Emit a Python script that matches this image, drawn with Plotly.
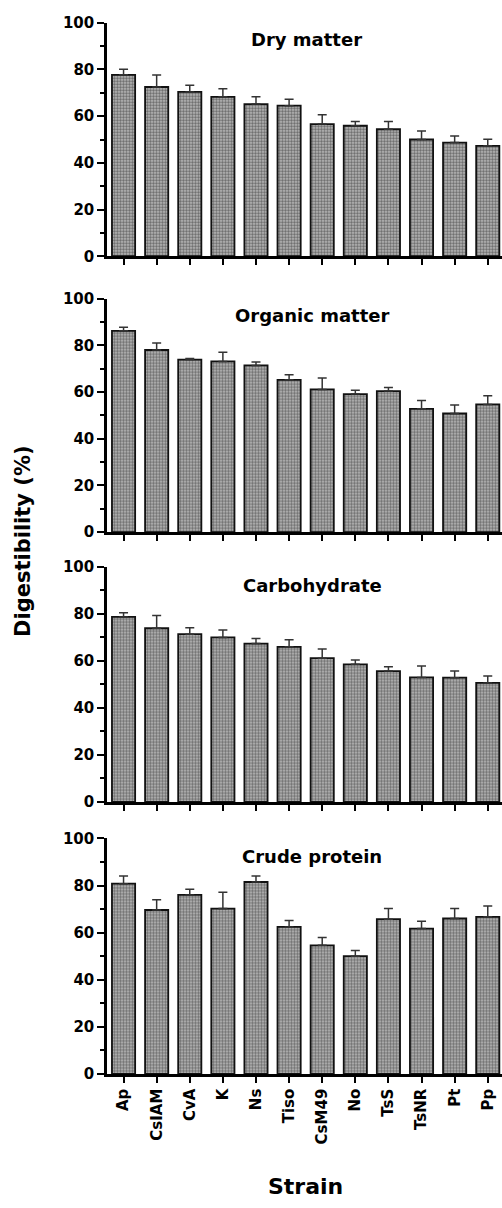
import plotly.graph_objects as go

strains = ["Ap", "CsIAM", "CvA", "K", "Ns", "Tiso", "CsM49", "No", "TsS", "TsNR", "Pt", "Pp"]

panel_titles = ["Dry matter", "Organic matter", "Carbohydrate", "Crude protein"]

dry_matter = [77.7, 72.5, 70.4, 68.3, 65.2, 64.5, 56.6, 55.9, 54.4, 50.0, 48.7, 47.3]
dry_matter_err = [2.4, 5.1, 2.8, 3.4, 3.1, 2.8, 4.0, 1.8, 3.3, 3.7, 2.8, 2.8]

organic_matter = [86.2, 78.0, 73.9, 73.1, 71.4, 65.2, 61.1, 59.1, 60.4, 52.8, 50.8, 54.7]
organic_matter_err = [1.5, 3.0, 0.4, 3.9, 1.4, 2.2, 4.9, 1.7, 1.5, 3.6, 3.6, 3.7]

carbohydrate = [78.6, 73.8, 71.3, 69.9, 67.3, 65.9, 61.1, 58.5, 55.6, 52.9, 52.8, 50.6]
carbohydrate_err = [1.8, 5.4, 2.7, 3.2, 2.2, 3.0, 3.9, 1.8, 1.9, 4.9, 2.8, 2.9]

crude_protein = [80.8, 69.6, 76.0, 70.2, 81.5, 62.4, 54.6, 50.0, 65.7, 61.7, 66.0, 66.7]
crude_protein_err = [3.2, 4.4, 2.4, 7.0, 2.5, 2.8, 3.3, 2.4, 4.6, 3.1, 4.3, 4.6]

y_ticks = [0, 20, 40, 60, 80, 100]

series = [
    (dry_matter, dry_matter_err),
    (organic_matter, organic_matter_err),
    (carbohydrate, carbohydrate_err),
    (crude_protein, crude_protein_err),
]

W, H = 502, 1208
# pixel extents of each panel's plot area (top, bottom)
panel_px = [(14, 251), (294, 531), (566, 805), (842, 1081)]
title_px = [(306, 31), (312, 311), (312, 585), (312, 860)]
x_left_px = 107

FONT = "DejaVu Sans"

fig = go.Figure()
layout_axes = {}
for i, ((vals, errs), (top, bot)) in enumerate(zip(series, panel_px)):
    n = i + 1
    xa = "x" if n == 1 else f"x{n}"
    ya = "y" if n == 1 else f"y{n}"
    fig.add_trace(go.Bar(
        x=list(range(len(strains))),
        y=vals,
        xaxis=xa, yaxis=ya,
        width=0.7,
        marker=dict(
            color="white",
            line=dict(color="#111", width=1.8),
            pattern=dict(shape=".", fgcolor="#111", bgcolor="#c4c4c4", size=3, solidity=0.6),
        ),
        error_y=dict(type="data", symmetric=False, array=errs,
                     arrayminus=[0] * len(errs), color="#333", thickness=1.5, width=4.5),
        showlegend=False,
        hoverinfo="skip",
    ))
    xkey = "xaxis" if n == 1 else f"xaxis{n}"
    ykey = "yaxis" if n == 1 else f"yaxis{n}"
    layout_axes[xkey] = dict(
        domain=[x_left_px / W, 1],
        range=[-0.5, 11.43],
        anchor=ya,
        tickmode="array",
        tickvals=list(range(len(strains))),
        ticktext=strains if n == 4 else [""] * len(strains),
        tickangle=-90,
        ticks="outside", ticklen=6, tickwidth=2, tickcolor="black",
        showline=True, linecolor="black", linewidth=2.5,
        showgrid=False, zeroline=False,
        tickfont=dict(family=FONT, size=15, color="black", weight="bold"),
        fixedrange=True,
    )
    layout_axes[ykey] = dict(
        domain=[1 - bot / H, 1 - top / H],
        range=[0, 100],
        anchor=xa,
        tickmode="array",
        tickvals=y_ticks,
        ticks="outside", ticklen=7, tickwidth=2, tickcolor="black",
        minor=dict(tickvals=[10, 30, 50, 70, 90], ticks="outside", ticklen=4,
                   tickwidth=1.5, tickcolor="black", showgrid=False),
        showline=True, linecolor="black", linewidth=2.5,
        showgrid=False, zeroline=False,
        tickfont=dict(family=FONT, size=15, color="black", weight="bold"),
        fixedrange=True,
    )

annotations = []
for t, (cx, cy) in zip(panel_titles, title_px):
    annotations.append(dict(text=t, x=cx / W, y=1 - cy / H, xref="paper", yref="paper",
                            showarrow=False, xanchor="center", yanchor="middle",
                            font=dict(family=FONT, size=18, color="black", weight="bold")))
annotations.append(dict(text="Digestibility (%)", x=23 / W, y=1 - 540 / H, xref="paper", yref="paper",
                        showarrow=False, xanchor="center", yanchor="middle", textangle=-90,
                        font=dict(family=FONT, size=21, color="black", weight="bold")))
annotations.append(dict(text="Strain", x=305 / W, y=1 - 1195 / H, xref="paper", yref="paper",
                        showarrow=False, xanchor="center", yanchor="middle",
                        font=dict(family=FONT, size=22, color="black", weight="bold")))

fig.update_layout(
    width=W, height=H,
    margin=dict(l=0, r=0, t=0, b=0),
    paper_bgcolor="white", plot_bgcolor="white",
    annotations=annotations,
    bargap=0.3,
    **layout_axes,
)

fig.write_html("out.html", config={"displayModeBar": False})
